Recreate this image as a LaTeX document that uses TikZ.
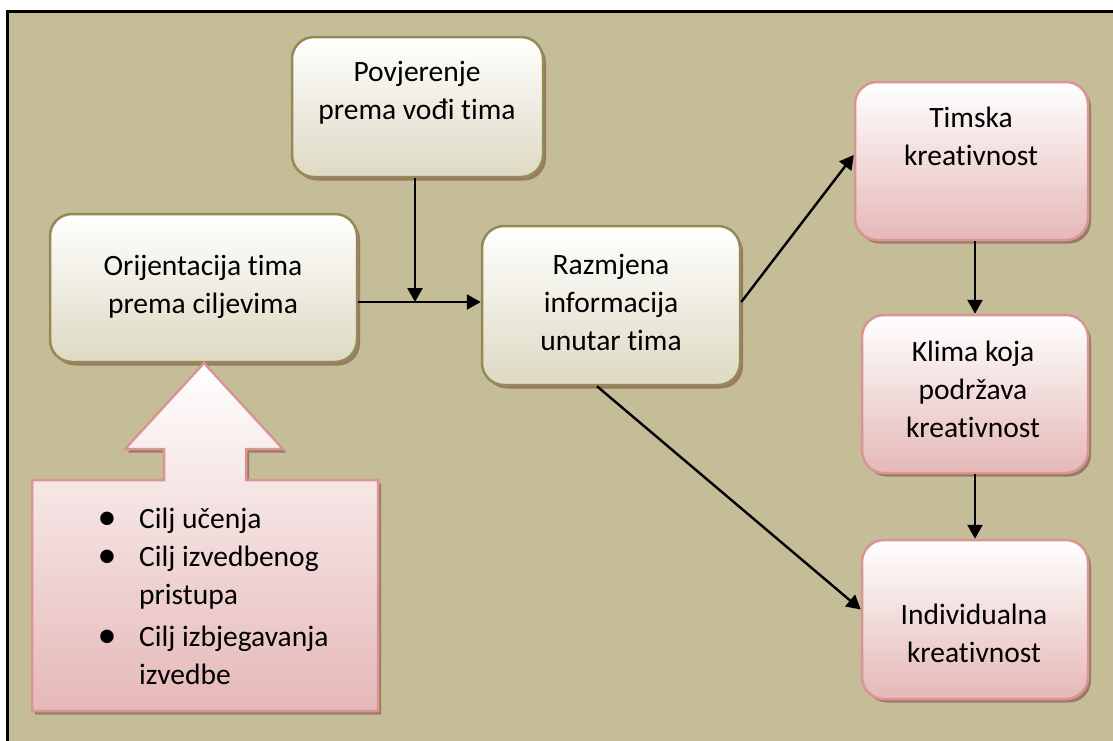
\documentclass[tikz,border=0pt]{standalone}
\usepackage{fontspec}
\setmainfont[Ligatures={NoCommon}]{Carlito}
\usetikzlibrary{arrows.meta,shadows}
\definecolor{bgtan}{HTML}{C4BD97}
\definecolor{oliveborder}{HTML}{948A54}
\definecolor{olivebot}{HTML}{DDD9C3}
\definecolor{pinkborder}{HTML}{D99594}
\definecolor{pinkbot}{HTML}{E5B8B7}
\definecolor{shadowc}{HTML}{9A7A67}
\tikzset{
  shad/.style={drop shadow={shadow xshift=3pt,shadow yshift=-3.5pt,fill=shadowc,opacity=1}},
  olivebox/.style={shad,rectangle,rounded corners=22pt,draw=oliveborder,line width=2.5pt,
    top color=white,bottom color=olivebot,inner sep=0pt},
  pinkbox/.style={shad,rectangle,rounded corners=22pt,draw=pinkborder,line width=2.5pt,
    top color=white,bottom color=pinkbot,inner sep=0pt},
  lbl/.style={align=center,inner sep=0pt,font=\fontsize{29.5}{38}\selectfont},
  arr/.style={line width=2.4pt,-{Triangle[length=14pt,width=15pt]}}
}
\newcommand{\bul}{\makebox[20pt][c]{\fontsize{38}{38}\selectfont\raisebox{-1pt}{•}}}
\begin{document}
\begin{tikzpicture}[x=1pt,y=-1pt]
\useasboundingbox (0,0) rectangle (1113,740);
\fill[white] (0,0) rectangle (1113,740);
\draw[line width=2.5pt,fill=bgtan] (7.5,11.5) rectangle (1130,760);

% boxes
\node[olivebox,minimum width=251pt,minimum height=140pt] (pov) at (417.5,107) {};
\node[olivebox,minimum width=307pt,minimum height=148pt] (ori) at (203.5,288) {};
\node[olivebox,minimum width=258pt,minimum height=159pt] (raz) at (611,305.5) {};
\node[pinkbox,minimum width=233pt,minimum height=158pt] (tim) at (971.5,161) {};
\node[pinkbox,minimum width=226pt,minimum height=158pt] (kli) at (975,394) {};
\node[pinkbox,minimum width=226pt,minimum height=159pt] (ind) at (975,619.5) {};

% labels
\node[lbl] (povt) at (417,92.5) {Povjerenje\\prema vođi tima};
\node[lbl] (orit) at (203,287) {Orijentacija tima\\prema ciljevima};
\node[lbl] (razt) at (611,302) {Razmjena\\informacija\\unutar tima};
\node[lbl] (timt) at (971,136) {Timska\\kreativnost};
\node[lbl] (klit) at (973,389) {Klima koja\\podržava\\kreativnost};
\node[lbl] (indt) at (974,633) {Individualna\\kreativnost};

% up-arrow callout
\path[shad,draw=pinkborder,line width=2.5pt,top color=white,bottom color=pinkbot]
  (32,480) -- (164,480) -- (164,449) -- (125,449) -- (204,363) -- (283,449)
  -- (246,449) -- (246,480) -- (378,480) -- (378,711) -- (32,711) -- cycle;
\node[anchor=north west,inner sep=0pt,font=\fontsize{29.5}{38}\selectfont] (goals) at (97,501.4)
{\begin{tabular}{@{}p{42pt}@{}l@{}}
\bul & Cilj učenja\\
\bul & Cilj izvedbenog\\
 & pristupa\\[4pt]
\bul & Cilj izbjegavanja\\
 & izvedbe
\end{tabular}};

% connectors
\coordinate (j) at (415,302);
\draw[arr] (pov.south -| j) -- (j);
\draw[arr] (ori.east |- j) -- (raz.west |- j);
\draw[arr] (raz.east |- j) -- ([yshift=6pt]tim.west);
\draw[arr] (kli.north |- tim.south) -- (kli.north);
\draw[arr] (kli.south) -- (ind.north);
\draw[arr] ([xshift=-14pt]raz.south) -- ([yshift=10pt]ind.west);
\end{tikzpicture}
\end{document}
